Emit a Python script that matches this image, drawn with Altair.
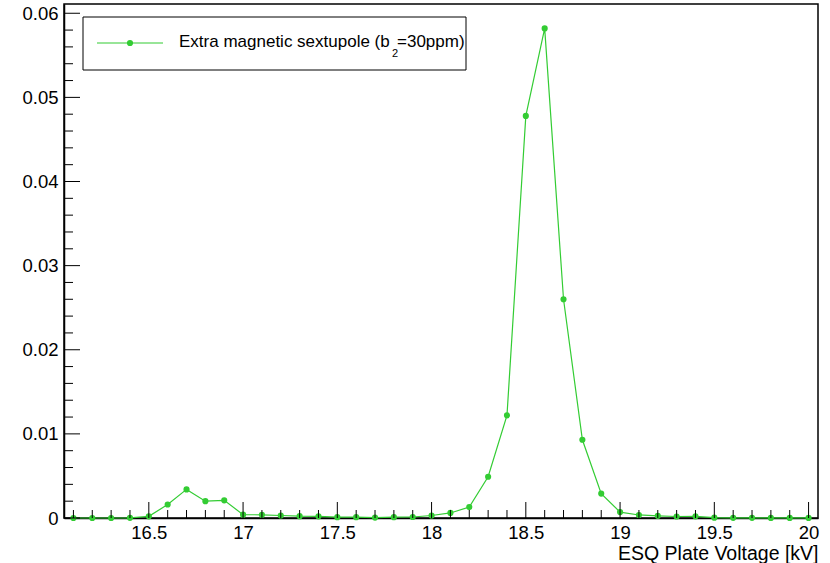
import altair as alt
import pandas as pd

# ---- data ----
voltage = [16.1, 16.2, 16.3, 16.4, 16.5, 16.6, 16.7, 16.8, 16.9, 17.0,
           17.1, 17.2, 17.3, 17.4, 17.5, 17.6, 17.7, 17.8, 17.9, 18.0,
           18.1, 18.2, 18.3, 18.4, 18.5, 18.6, 18.7, 18.8, 18.9, 19.0,
           19.1, 19.2, 19.3, 19.4, 19.5, 19.6, 19.7, 19.8, 19.9, 20.0]
rate = [0.0, 0.0, 0.0, 0.00002, 0.0002, 0.0016, 0.0034, 0.0020, 0.0021, 0.0004,
        0.00038, 0.0003, 0.00022, 0.0002, 0.0001, 0.0001, 0.00005, 0.0001, 0.00012, 0.0003,
        0.0006, 0.0013, 0.0049, 0.0122, 0.0478, 0.0582, 0.0260, 0.0093, 0.0029, 0.0007,
        0.00036, 0.00026, 0.00018, 0.0002, 0.00004, 0.00002, 0.00002, 0.00001, 0.00001, 0.00001]

x_label_values = [16.5, 17.0, 17.5, 18.0, 18.5, 19.0, 19.5, 20.0]
y_label_values = [0.0, 0.01, 0.02, 0.03, 0.04, 0.05, 0.06]
x_tick_values = [round(16.1 + 0.1 * i, 1) for i in range(40)]
y_tick_values = [round(0.002 * i, 3) for i in range(31)]

x_title = "ESQ Plate Voltage [kV]"
legend_main = "Extra magnetic sextupole (b"
legend_sub = "2"
legend_tail = "=30ppm)"

x_domain = [16.05, 20.05]
y_domain = [0.0, 0.0611]

GREEN = "#33cc33"
FONT = "Liberation Sans"
W, H = 754, 514

df = pd.DataFrame({"voltage": voltage, "rate": rate})
x_major = pd.DataFrame({"v": [v for v in x_tick_values if abs(v * 2 - round(v * 2)) < 1e-9]})
x_minor = pd.DataFrame({"v": [v for v in x_tick_values if abs(v * 2 - round(v * 2)) >= 1e-9]})
y_major = pd.DataFrame({"v": [v for i, v in enumerate(y_tick_values) if i % 5 == 0]})
y_minor = pd.DataFrame({"v": [v for i, v in enumerate(y_tick_values) if i % 5 != 0]})
one = pd.DataFrame({"k": [0]})

xs = alt.Scale(domain=x_domain, nice=False, zero=False)
ys = alt.Scale(domain=y_domain, nice=False, zero=False)

x_axis = alt.Axis(
    values=x_label_values, format=".1~f", ticks=False, grid=False,
    domainColor="black", domainWidth=1.5,
    labelFont=FONT, labelFontSize=18.5, labelColor="black",
    labelBaseline="alphabetic", labelPadding=20, labelFlush=False,
    title=x_title, titleFont=FONT, titleFontSize=19.5, titleFontWeight="normal",
    titleColor="black", titleAlign="right", titleBaseline="alphabetic",
    titleX=W, titleY=41,
)
y_axis = alt.Axis(
    values=y_label_values, format=".2~f", ticks=False, grid=False,
    domainColor="black", domainWidth=1.5,
    labelFont=FONT, labelFontSize=18.5, labelColor="black",
    labelPadding=6, labelFlush=False, title=None,
)

X = lambda f: alt.X(f, scale=xs, axis=x_axis, title=x_title)
Y = lambda f: alt.Y(f, scale=ys, axis=y_axis, title=None)

line = alt.Chart(df).mark_line(color=GREEN, strokeWidth=1.2).encode(
    x=X("voltage:Q"), y=Y("rate:Q"),
)
points = alt.Chart(df).mark_point(filled=True, color=GREEN, size=38, opacity=1).encode(
    x=X("voltage:Q"), y=Y("rate:Q"),
)

def xticks(data, length):
    return alt.Chart(data).mark_rule(color="black", strokeWidth=1).encode(
        x=X("v:Q"), y=alt.value(H), y2=alt.value(H - length),
    )

def yticks(data, length):
    return alt.Chart(data).mark_rule(color="black", strokeWidth=1).encode(
        y=Y("v:Q"), x=alt.value(0), x2=alt.value(length),
    )

legend_box = alt.Chart(one).mark_rect(fill="white", stroke="black", strokeWidth=1).encode(
    x=alt.value(19), x2=alt.value(402), y=alt.value(13), y2=alt.value(66)
)
legend_line = alt.Chart(one).mark_rule(color=GREEN, strokeWidth=1.2).encode(
    x=alt.value(33), x2=alt.value(99), y=alt.value(39)
)
legend_pt = alt.Chart(one).mark_point(filled=True, color=GREEN, size=38, opacity=1).encode(
    x=alt.value(66), y=alt.value(39)
)

def txt(s, x, y, size):
    return alt.Chart(one).mark_text(
        align="left", baseline="alphabetic", font=FONT, fontSize=size, color="black"
    ).encode(x=alt.value(x), y=alt.value(y), text=alt.value(s))

chart = alt.layer(
    line, points,
    xticks(x_major, 16), xticks(x_minor, 8),
    yticks(y_major, 16), yticks(y_minor, 9),
    legend_box, legend_line, legend_pt,
    txt(legend_main, 115, 43, 17),
    txt(legend_sub, 328, 53, 11),
    txt(legend_tail, 333, 43, 17),
).properties(
    width=W, height=H,
    autosize=alt.AutoSizeParams(type="none"),
    padding={"left": 64, "top": 4, "right": 12, "bottom": 45},
    background="white",
).configure_view(stroke="black", strokeWidth=1.5)

chart.save("out.html", embed_options={"renderer": "svg", "actions": False})
